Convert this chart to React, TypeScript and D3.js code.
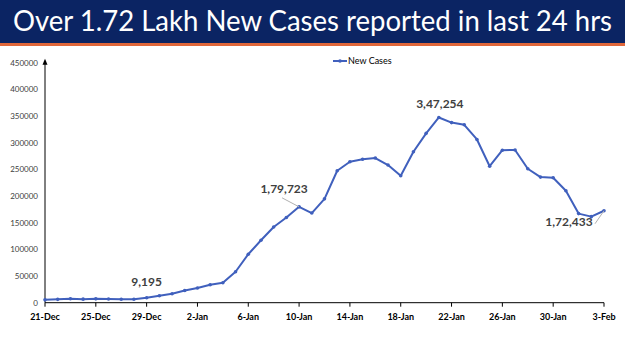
import React, { useEffect, useRef } from 'react';
import * as d3 from 'd3';

const dates = [
  '21-Dec', '22-Dec', '23-Dec', '24-Dec', '25-Dec', '26-Dec', '27-Dec', '28-Dec', '29-Dec', '30-Dec', '31-Dec',
  '1-Jan', '2-Jan', '3-Jan', '4-Jan', '5-Jan', '6-Jan', '7-Jan', '8-Jan', '9-Jan', '10-Jan',
  '11-Jan', '12-Jan', '13-Jan', '14-Jan', '15-Jan', '16-Jan', '17-Jan', '18-Jan', '19-Jan', '20-Jan',
  '21-Jan', '22-Jan', '23-Jan', '24-Jan', '25-Jan', '26-Jan', '27-Jan', '28-Jan', '29-Jan', '30-Jan',
  '31-Jan', '1-Feb', '2-Feb', '3-Feb',
];

const newCases = [
  5326, 6317, 7495, 6650, 7189, 6987, 6531, 6358, 9195, 13154, 16764,
  22775, 27553, 33750, 37379, 58097, 90928, 117100, 141986, 159632, 179723,
  168063, 194720, 247417, 264202, 268833, 271202, 258089, 238018, 282970, 317532,
  347254, 337704, 333533, 306064, 255874, 285914, 286384, 251209, 235532, 234281,
  209918, 167059, 161386, 172433,
];

const yTicks = [0, 50000, 100000, 150000, 200000, 250000, 300000, 350000, 400000, 450000];
const xTickLabels = ['21-Dec', '25-Dec', '29-Dec', '2-Jan', '6-Jan', '10-Jan', '14-Jan', '18-Jan', '22-Jan', '26-Jan', '30-Jan', '3-Feb'];

const callouts = [
  { date: '29-Dec', text: '9,195', dx: 0, dy: -12, leader: false },
  { date: '10-Jan', text: '1,79,723', dx: -15, dy: -14, leader: true },
  { date: '21-Jan', text: '3,47,254', dx: 1, dy: -9, leader: false },
  { date: '3-Feb', text: '1,72,433', dx: -35, dy: 15, leader: true },
];

export default function App() {
  const svgRef = useRef<SVGSVGElement>(null);

  useEffect(() => {
    if (!svgRef.current) return;
    const svg = d3.select(svgRef.current);
    svg.selectAll('*').remove();

    const width = 625;
    const height = 351;
    const font = 'Lato, "Open Sans", sans-serif';

    svg.attr('width', width).attr('height', height);
    svg.append('rect').attr('width', width).attr('height', height).attr('fill', '#fff');

    // Title banner
    svg.append('rect').attr('x', 0).attr('y', 0).attr('width', width).attr('height', 43).attr('fill', '#0b2463');
    svg.append('rect').attr('x', 0).attr('y', 43).attr('width', width).attr('height', 3).attr('fill', '#e0673a');
    svg.append('text')
      .attr('x', 13)
      .attr('y', 31)
      .attr('textLength', 599)
      .attr('lengthAdjust', 'spacingAndGlyphs')
      .style('font-family', font)
      .style('font-size', '28px')
      .style('fill', '#fff')
      .text('Over 1.72 Lakh New Cases reported in last 24 hrs');

    const x = d3.scalePoint<string>().domain(dates).range([45, 604]);
    const y = d3.scaleLinear().domain([0, 450000]).range([302.7, 62.7]);

    // Y axis with arrow
    svg.append('line')
      .attr('x1', 45).attr('x2', 45)
      .attr('y1', y(0)).attr('y2', y(450000) - 2)
      .attr('stroke', '#000').attr('stroke-width', 1);
    svg.append('path')
      .attr('d', `M42.5,${y(450000) + 2} L45,${y(450000) - 4} L47.5,${y(450000) + 2} Z`)
      .attr('fill', '#000');

    svg.selectAll('.ytick')
      .data(yTicks)
      .enter()
      .append('text')
      .attr('x', 38)
      .attr('y', d => y(d))
      .attr('dy', '0.35em')
      .attr('text-anchor', 'end')
      .style('font-family', font)
      .style('font-size', '8px')
      .style('fill', '#404040')
      .text(d => String(d));

    // X axis
    svg.append('line')
      .attr('x1', 45).attr('x2', 604)
      .attr('y1', y(0)).attr('y2', y(0))
      .attr('stroke', '#000').attr('stroke-width', 1);

    xTickLabels.forEach(lbl => {
      const px = x(lbl)!;
      svg.append('line')
        .attr('x1', px).attr('x2', px)
        .attr('y1', y(0)).attr('y2', y(0) + 4)
        .attr('stroke', '#000');
      svg.append('text')
        .attr('x', px)
        .attr('y', 320)
        .attr('text-anchor', 'middle')
        .style('font-family', font)
        .style('font-size', '9px')
        .style('font-weight', '700')
        .style('fill', '#000')
        .text(lbl);
    });

    const lineColor = '#4060bd';
    const line = d3.line<number>()
      .x((d, i) => x(dates[i])!)
      .y(d => y(d));

    svg.append('path')
      .datum(newCases)
      .attr('d', line)
      .attr('fill', 'none')
      .attr('stroke', lineColor)
      .attr('stroke-width', 2)
      .attr('stroke-linejoin', 'round');

    svg.selectAll('.pt')
      .data(newCases)
      .enter()
      .append('circle')
      .attr('cx', (d, i) => x(dates[i])!)
      .attr('cy', d => y(d))
      .attr('r', 1.8)
      .attr('fill', lineColor);

    // Callouts
    callouts.forEach(c => {
      const i = dates.indexOf(c.date);
      const px = x(c.date)!;
      const py = y(newCases[i]);
      const tx = px + c.dx;
      const ty = py + c.dy;
      if (c.leader) {
        svg.append('line')
          .attr('x1', c.dx < -20 ? tx + 26 : tx - 2)
          .attr('y1', c.dx < -20 ? ty - 2 : ty + 5)
          .attr('x2', px)
          .attr('y2', py)
          .attr('stroke', '#b0b0b0')
          .attr('stroke-width', 1);
      }
      svg.append('text')
        .attr('x', tx)
        .attr('y', ty)
        .attr('text-anchor', 'middle')
        .style('font-family', font)
        .style('font-size', '12px')
        .style('font-weight', '700')
        .style('fill', '#404040')
        .text(c.text);
    });

    // Legend
    svg.append('line')
      .attr('x1', 333).attr('x2', 347)
      .attr('y1', 61).attr('y2', 61)
      .attr('stroke', lineColor).attr('stroke-width', 2);
    svg.append('circle').attr('cx', 340).attr('cy', 61).attr('r', 1.8).attr('fill', lineColor);
    svg.append('text')
      .attr('x', 348)
      .attr('y', 61)
      .attr('dy', '0.35em')
      .style('font-family', font)
      .style('font-size', '9px')
      .style('fill', '#000')
      .text('New Cases');
  }, []);

  return (
    <svg ref={svgRef} style={{ position: 'absolute', left: 0, top: 0, display: 'block' }}></svg>
  );
}
